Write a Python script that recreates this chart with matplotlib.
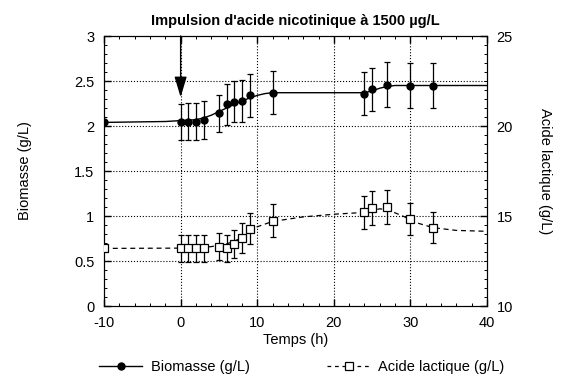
import matplotlib.pyplot as plt
import numpy as np

plt.rcParams['font.family'] = ['Liberation Sans', 'DejaVu Sans']
plt.rcParams['font.size'] = 9
plt.rcParams['axes.unicode_minus'] = False

# time points (h)
t_bio = [-10, 0, 1, 2, 3, 5, 6, 7, 8, 9, 12, 24, 25, 27, 30, 33]
biomasse = [2.04, 2.05, 2.05, 2.05, 2.07, 2.14, 2.24, 2.27, 2.28, 2.34, 2.37, 2.36, 2.41, 2.46, 2.45, 2.45]
err_bio = [0, 0.2, 0.21, 0.21, 0.21, 0.21, 0.23, 0.23, 0.23, 0.24, 0.24, 0.24, 0.24, 0.25, 0.25, 0.25]

t_lac = [-10, 0, 1, 2, 3, 5, 6, 7, 8, 9, 12, 24, 25, 27, 30, 33]
lactique = [13.2, 13.2, 13.2, 13.22, 13.2, 13.3, 13.22, 13.45, 13.78, 14.3, 14.75, 15.2, 15.45, 15.5, 14.85, 14.35]
err_lac = [0, 0.75, 0.75, 0.75, 0.75, 0.75, 0.75, 0.8, 0.85, 0.85, 0.9, 0.9, 0.95, 0.95, 0.9, 0.85]

# fitted curves
fit_t_bio = [-10, -2, 0, 2, 3, 4, 5, 6, 7, 8, 9, 10, 11, 12, 14, 24, 25, 26, 27, 28, 30, 40]
fit_bio = [2.04, 2.05, 2.06, 2.07, 2.09, 2.12, 2.16, 2.2, 2.24, 2.28, 2.31, 2.34, 2.36, 2.37, 2.37, 2.37, 2.39, 2.42, 2.44, 2.45, 2.45, 2.45]

fit_t_lac = [-10, 2, 4, 6, 7, 8, 9, 10, 12, 16, 20, 24, 25, 26, 27, 29, 31, 33, 36, 40]
fit_lac = [13.2, 13.22, 13.3, 13.45, 13.6, 13.8, 14.1, 14.4, 14.7, 14.95, 15.1, 15.2, 15.3, 15.4, 15.35, 15.0, 14.6, 14.35, 14.2, 14.15]

fig = plt.figure(figsize=(5.78, 3.83), dpi=100)
ax = fig.add_axes([0.18, 0.201, 0.6626, 0.705])
ax2 = ax.twinx()

ax.plot(fit_t_bio, fit_bio, color='black', lw=1, zorder=3)
ax.errorbar(t_bio, biomasse, yerr=err_bio, fmt='o', color='black', ms=5,
            elinewidth=0.9, capsize=2.5, capthick=0.9, zorder=4)

ax2.plot(fit_t_lac, fit_lac, color='black', lw=0.9, dashes=(4, 3), zorder=3)
ax2.errorbar(t_lac, lactique, yerr=err_lac, fmt='s', color='black', mfc='white',
             ms=5.5, mew=0.9, elinewidth=0.9, capsize=2.5, capthick=0.9, zorder=4)

ax.set_xlim(-10, 40)
ax.set_ylim(0, 3)
ax2.set_ylim(10, 25)
ax.set_xticks([-10, 0, 10, 20, 30, 40])
ax.set_xticks(np.arange(-10, 41, 2), minor=True)
ax.set_yticks([0, 0.5, 1, 1.5, 2, 2.5, 3])
ax.set_yticklabels(['0', '0.5', '1', '1.5', '2', '2.5', '3'])
ax.set_yticks(np.arange(0, 3.01, 0.1), minor=True)
ax2.set_yticks([10, 15, 20, 25])
ax2.set_yticks(np.arange(10, 25.1, 0.5), minor=True)

for a in (ax, ax2):
    a.tick_params(which='both', direction='in', top=True, labelsize=10.5)
    a.tick_params(which='major', length=5, width=1)
    a.tick_params(which='minor', length=2.5, width=0.7)
ax.tick_params(axis='y', right=False, which='both')
ax.tick_params(pad=7)
ax2.tick_params(pad=7)

for v in [0, 10, 20, 30]:
    ax.axvline(v, color='black', ls=':', lw=0.8, zorder=1)
for v in [0.5, 1, 1.5, 2, 2.5]:
    ax.axhline(v, color='black', ls=':', lw=0.8, zorder=1)

ax.annotate('', xy=(0, 2.32), xytext=(0, 3),
            arrowprops=dict(arrowstyle='-|>,head_length=0.9,head_width=0.27',
                            color='black', lw=1, mutation_scale=14,
                            shrinkA=0, shrinkB=0))

ax.set_title("Impulsion d'acide nicotinique à 1500 µg/L", fontsize=10.5,
             fontweight='bold', pad=8)
ax.set_xlabel('Temps (h)', fontsize=10.5, labelpad=2)
ax.set_ylabel('Biomasse (g/L)', fontsize=10.5, labelpad=30)
ax2.set_ylabel('Acide lactique (g/L)', fontsize=10.5, rotation=270, labelpad=28)

h1 = plt.Line2D([], [], color='black', lw=1, marker='o', ms=5)
h2 = plt.Line2D([], [], color='black', lw=0.9, dashes=(3, 3), marker='s',
                mfc='white', ms=5.5, mew=0.9)
fig.legend([h1, h2], ['Biomasse (g/L)', 'Acide lactique (g/L)'], loc='lower center',
           ncol=2, frameon=False, fontsize=10.5, bbox_to_anchor=(0.522, -0.01),
           columnspacing=5.3, handlelength=3, handletextpad=0.55)

fig.savefig('out.png', dpi=100)
